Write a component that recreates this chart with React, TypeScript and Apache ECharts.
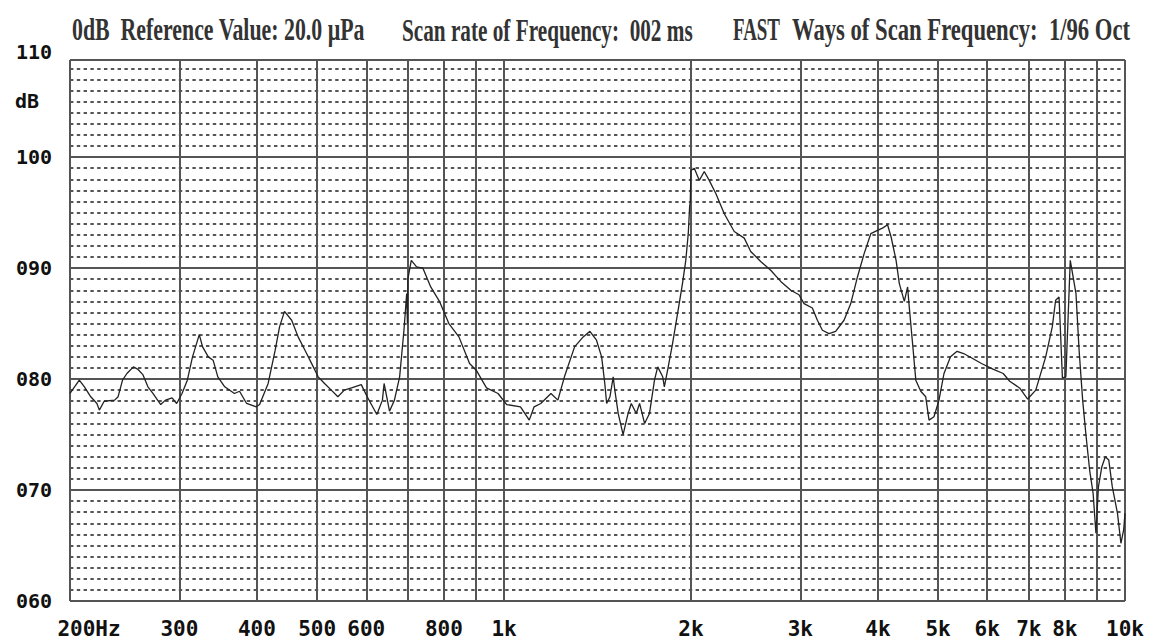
import React, { useEffect, useRef } from "react";
import * as echarts from "echarts";

// Frequency response curve (Hz, dB)
const FREQ_HZ = [
  200, 207, 211, 216, 221, 223, 227, 236, 239, 243, 247, 253, 257, 262, 267, 272, 280, 285, 292, 297,
  303, 309, 315, 323, 327, 334, 340, 346, 355, 368, 375, 385, 399, 404, 417, 428, 435, 443, 455, 466,
  478, 493, 502, 514, 527, 540, 553, 568, 589, 602, 624, 637, 641, 654, 666, 679, 690, 697, 699, 700,
  709, 723, 740, 762, 787, 815, 846, 880, 902, 937, 978, 1010, 1063, 1098, 1118, 1146, 1190, 1221, 1251, 1299,
  1341, 1375, 1409, 1436, 1453, 1463, 1481, 1499, 1508, 1527, 1555, 1584, 1603, 1633, 1653, 1684, 1715, 1747, 1768, 1801,
  1812, 1834, 1868, 1903, 1938, 1962, 1980, 1990, 1995, 2000, 2025, 2063, 2101, 2140, 2194, 2263, 2348, 2437, 2496, 2590,
  2688, 2790, 2896, 2985, 3042, 3137, 3196, 3256, 3337, 3420, 3528, 3617, 3708, 3801, 3896, 3994, 4069, 4146, 4201, 4279,
  4331, 4412, 4466, 4493, 4549, 4604, 4689, 4776, 4835, 4925, 5017, 5111, 5236, 5365, 5497, 5666, 5874, 6128, 6366, 6521,
  6764, 6970, 7183, 7452, 7636, 7732, 7830, 7929, 8031, 8163, 8338, 8437, 8547, 8658, 8771, 8885, 8978, 9062, 9178, 9296,
  9416, 9539, 9725, 9850, 9950, 10000,
];
const LEVEL_DB = [
  78.7, 79.9, 79.3, 78.4, 77.8, 77.2, 78.0, 78.1, 78.4, 79.9, 80.5, 81.1, 80.9, 80.4, 79.3, 78.7, 77.7, 78.1, 78.3, 77.8,
  78.7, 79.9, 82.0, 84.0, 82.9, 82.0, 81.7, 80.2, 79.3, 78.7, 78.9, 77.8, 77.5, 77.7, 79.6, 82.6, 84.7, 86.1, 85.3, 83.8,
  82.6, 81.1, 80.2, 79.6, 79.0, 78.4, 79.0, 79.2, 79.5, 78.4, 76.8, 78.1, 79.6, 77.1, 78.1, 80.2, 84.4, 87.7, 85.0, 89.0,
  90.7, 90.1, 90.0, 88.3, 87.0, 85.0, 83.8, 81.4, 80.8, 79.2, 78.7, 77.7, 77.5, 76.3, 77.5, 77.8, 78.7, 78.1, 80.2, 82.9,
  83.8, 84.3, 83.5, 82.0, 79.6, 77.8, 78.4, 80.2, 79.0, 76.9, 75.0, 76.9, 77.8, 76.9, 77.8, 76.0, 76.9, 79.9, 81.1, 80.2,
  79.3, 80.8, 83.2, 85.9, 88.6, 90.7, 93.1, 95.5, 96.0, 98.8, 99.0, 97.9, 98.7, 97.9, 96.7, 94.9, 93.3, 92.7, 91.5, 90.6,
  89.8, 88.8, 88.0, 87.6, 86.8, 86.4, 85.3, 84.4, 84.1, 84.3, 85.3, 86.8, 89.2, 91.3, 93.1, 93.4, 93.6, 93.9, 92.8, 90.7,
  88.6, 87.0, 88.3, 86.5, 83.2, 79.9, 78.9, 78.4, 76.3, 76.6, 78.1, 80.5, 82.0, 82.5, 82.3, 81.9, 81.4, 80.9, 80.5, 79.8,
  79.2, 78.2, 79.0, 82.0, 84.7, 87.1, 87.4, 80.1, 80.2, 90.7, 87.7, 82.5, 78.1, 74.8, 71.8, 69.7, 66.1, 70.3, 72.1, 73.0,
  72.7, 70.3, 67.9, 65.2, 66.4, 67.9,
];

// Vertical grid lines and their labels
const GRID_FREQS = [200, 300, 400, 500, 600, 700, 800, 900, 1000, 2000, 3000, 4000, 5000, 6000, 7000, 8000, 9000, 10000];
const GRID_LABELS = ["200Hz", "300", "400", "500", "600", "", "800", "", "1k", "2k", "3k", "4k", "5k", "6k", "7k", "8k", "", "10k"];

// Dashed 1 dB lines
const MINOR_DB = [
  61, 62, 63, 64, 65, 66, 67, 68, 69,
  71, 72, 73, 74, 75, 76, 77, 78, 79,
  81, 82, 83, 84, 85, 86, 87, 88, 89,
  91, 92, 93, 94, 95, 96, 97, 98, 99,
  101, 102, 103, 104, 105, 106, 107, 108,
];

const Y_MIN = 60;
const Y_MAX = 108.75;
const Y_STEP = 10;

const TITLE_PARTS = [
  "0dB  Reference Value: 20.0 \u00b5Pa",
  "Scan rate of Frequency:  002 ms",
  "FAST",
  "Ways of Scan Frequency:  1/96 Oct",
];
const TITLE_SPANS = [
  [72, 365],
  [402, 693],
  [733, 780],
  [792, 1130],
];

const TITLE_FONT = 'bold 31px "Liberation Serif"';
const MONO = '"DejaVu Sans Mono", monospace';

export default function App() {
  const ref = useRef<HTMLDivElement>(null);

  useEffect(() => {
    document.body.style.margin = "0";
    if (!ref.current) return;
    const chart = echarts.init(ref.current, undefined, { renderer: "svg" });

    const canvas = document.createElement("canvas");
    const ctx = canvas.getContext("2d")!;
    ctx.font = TITLE_FONT;

    const titleGraphics = TITLE_PARTS.map((t, i) => {
      const [x0, x1] = TITLE_SPANS[i];
      const w = ctx.measureText(t).width || 1;
      return {
        type: "text",
        x: x0,
        y: 30,
        scaleX: (x1 - x0) / w,
        style: {
          text: t,
          font: TITLE_FONT,
          fill: "#333",
          align: "left",
          verticalAlign: "middle",
        },
      };
    });

    const curve = FREQ_HZ.map((f, i) => [f, LEVEL_DB[i]]);

    const vLines = GRID_FREQS.map((f, i) => ({
      xAxis: f,
      lineStyle: { color: "#555", width: 2, type: "solid" },
      label: {
        show: GRID_LABELS[i] !== "",
        formatter: GRID_LABELS[i] || " ",
        position: "start",
        distance: 17,
        color: "#111",
        fontFamily: MONO,
        fontWeight: "bold",
        fontSize: 21,
        padding: i === 0 ? [0, 0, 0, 38] : 0,
      },
    }));

    const hLines = MINOR_DB.map((v) => ({
      yAxis: v,
      lineStyle: { color: "#555", width: 2, type: [3.4, 3.4] },
      label: { show: false },
    }));

    chart.setOption({
      animation: false,
      backgroundColor: "#fff",
      grid: { left: 70, right: 45, top: 60, bottom: 42, containLabel: false },
      xAxis: {
        type: "log",
        logBase: 10,
        min: 200,
        max: 10000,
        axisLine: { show: false },
        axisTick: { show: false },
        axisLabel: { show: false },
        splitLine: { show: false },
      },
      yAxis: {
        type: "value",
        min: Y_MIN,
        max: Y_MAX,
        interval: Y_STEP,
        axisLine: { show: false },
        axisTick: { show: false },
        axisLabel: {
          margin: 18,
          color: "#111",
          fontFamily: MONO,
          fontWeight: "bold",
          fontSize: 20,
          formatter: (v: number) => (v % 10 === 0 ? String(v).padStart(3, "0") : ""),
        },
        splitLine: { show: true, lineStyle: { color: "#555", width: 2 } },
      },
      graphic: [
        ...titleGraphics,
        {
          type: "text",
          x: 52,
          y: 52,
          style: {
            text: "110",
            fontFamily: MONO,
            fontWeight: "bold",
            fontSize: 20,
            fill: "#111",
            align: "right",
            verticalAlign: "middle",
          },
        },
        {
          type: "text",
          x: 15,
          y: 101,
          style: {
            text: "dB",
            fontFamily: MONO,
            fontWeight: "bold",
            fontSize: 20,
            fill: "#111",
            align: "left",
            verticalAlign: "middle",
          },
        },
      ],
      series: [
        {
          type: "line",
          name: "grid",
          data: [],
          clip: false,
          z: 1,
          silent: true,
          markLine: {
            silent: true,
            z: 1,
            symbol: ["none", "none"],
            animation: false,
            data: [...hLines, ...vLines],
          },
        },
        {
          type: "line",
          name: "level",
          data: curve,
          z: 5,
          showSymbol: false,
          symbol: "none",
          silent: true,
          lineStyle: { color: "#222", width: 1.3 },
        },
      ],
    });

    return () => chart.dispose();
  }, []);

  return (
    <div
      ref={ref}
      style={{ position: "fixed", left: 0, top: 0, width: 1170, height: 643, background: "#fff" }}
    />
  );
}
